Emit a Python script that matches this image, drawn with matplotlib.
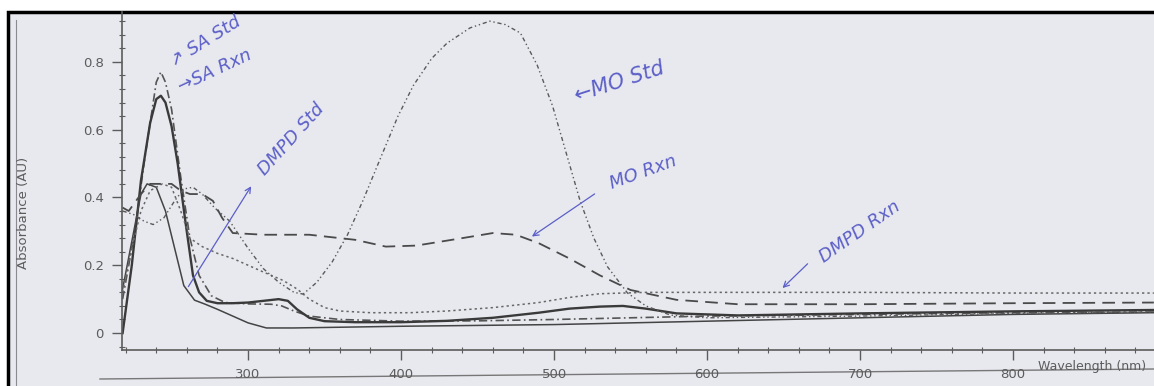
import numpy as np
import matplotlib
matplotlib.use("Agg")
import matplotlib.pyplot as plt
from matplotlib.patches import Rectangle
from matplotlib.lines import Line2D
from matplotlib.ticker import MultipleLocator

# SA standard (dash-dot)
sa_std_wl = [218, 226, 232, 236, 240, 243, 246, 250, 256, 262, 268, 276, 285, 300, 315, 322, 330, 340, 360, 400, 450, 500, 550, 600, 700, 800, 892]
sa_std_a = [0.10, 0.30, 0.50, 0.62, 0.74, 0.77, 0.74, 0.66, 0.46, 0.28, 0.17, 0.11, 0.09, 0.086, 0.085, 0.08, 0.065, 0.05, 0.04, 0.035, 0.036, 0.04, 0.045, 0.05, 0.055, 0.06, 0.062]

# SA reaction (thick solid)
sa_rxn_wl = [218, 224, 230, 236, 240, 243, 246, 250, 254, 259, 264, 268, 273, 280, 290, 300, 310, 320, 326, 332, 340, 350, 370, 400, 430, 460, 490, 510, 530, 545, 560, 580, 620, 700, 800, 892]
sa_rxn_a = [0.0, 0.20, 0.45, 0.62, 0.69, 0.70, 0.68, 0.61, 0.50, 0.33, 0.17, 0.12, 0.095, 0.088, 0.088, 0.09, 0.095, 0.10, 0.095, 0.07, 0.045, 0.035, 0.032, 0.032, 0.036, 0.045, 0.06, 0.072, 0.078, 0.08, 0.072, 0.058, 0.052, 0.058, 0.064, 0.068]

# DMPD standard (thin solid)
dmpd_std_wl = [218, 224, 230, 234, 240, 246, 252, 258, 265, 272, 280, 290, 300, 312, 330, 400, 500, 600, 700, 800, 892]
dmpd_std_a = [0.13, 0.27, 0.41, 0.44, 0.43, 0.36, 0.25, 0.14, 0.097, 0.085, 0.07, 0.05, 0.03, 0.015, 0.015, 0.02, 0.025, 0.035, 0.045, 0.055, 0.06]

# DMPD reaction (dotted)
dmpd_rxn_wl = [218, 224, 230, 236, 244, 250, 256, 262, 270, 280, 290, 300, 310, 323, 332, 340, 350, 360, 380, 406, 430, 460, 490, 510, 530, 560, 600, 700, 800, 892]
dmpd_rxn_a = [0.12, 0.25, 0.36, 0.42, 0.44, 0.43, 0.36, 0.28, 0.255, 0.235, 0.22, 0.20, 0.18, 0.155, 0.13, 0.10, 0.075, 0.065, 0.06, 0.06, 0.065, 0.075, 0.09, 0.105, 0.116, 0.12, 0.12, 0.12, 0.118, 0.118]

# MO standard (dash-dot-dot)
mo_std_wl = [218, 225, 232, 238, 245, 252, 258, 264, 270, 278, 288, 300, 310, 320, 330, 336, 345, 355, 365, 375, 386, 398, 408, 420, 430, 445, 458, 468, 478, 489, 499, 508, 517, 526, 535, 548, 560, 576, 600, 700, 800, 892]
mo_std_a = [0.36, 0.35, 0.33, 0.32, 0.34, 0.39, 0.425, 0.43, 0.41, 0.37, 0.33, 0.25, 0.19, 0.15, 0.12, 0.115, 0.15, 0.21, 0.29, 0.39, 0.51, 0.64, 0.73, 0.81, 0.855, 0.90, 0.92, 0.91, 0.885, 0.79, 0.67, 0.53, 0.39, 0.28, 0.195, 0.118, 0.08, 0.053, 0.045, 0.05, 0.058, 0.062]

# MO reaction (dashed)
mo_rxn_wl = [218, 222, 230, 236, 250, 256, 262, 270, 277, 283, 290, 310, 340, 370, 390, 410, 440, 460, 475, 490, 510, 530, 550, 580, 620, 700, 800, 892]
mo_rxn_a = [0.37, 0.36, 0.41, 0.44, 0.44, 0.42, 0.41, 0.41, 0.39, 0.34, 0.295, 0.29, 0.29, 0.275, 0.255, 0.258, 0.28, 0.295, 0.29, 0.265, 0.22, 0.17, 0.127, 0.098, 0.085, 0.085, 0.088, 0.09]

x_ticks = [300, 400, 500, 600, 700, 800]
y_ticks = [0, 0.2, 0.4, 0.6, 0.8]
y_tick_labels = ["0", "0.2", "0.4", "0.6", "0.8"]

ink = "#5b5fc7"
grey = "#5c5c5c"

fig = plt.figure(figsize=(11.54, 3.86), dpi=100, facecolor="white")
# scanned page with a dark border
fig.patches.append(Rectangle((8 / 1154, -0.2), 1.2, 1.2 - 12 / 386, transform=fig.transFigure,
                             facecolor="#e8e9ef", edgecolor="black", linewidth=2.5, zorder=-10))
fig.lines.append(Line2D([16 / 1154, 16 / 1154], [0, 1 - 20 / 386], transform=fig.transFigure,
                        color="#8a8a90", linewidth=0.8, zorder=-5))
fig.lines.append(Line2D([100 / 1154, 1.0], [1 - 379 / 386, 1 - 369 / 386], transform=fig.transFigure,
                        color="#777777", linewidth=1.0, zorder=-5))

ax = fig.add_axes([122 / 1154, 36 / 386, 1032 / 1154, 338 / 386])
ax.set_facecolor("none")
ax.set_zorder(1)

ax.plot(sa_std_wl, sa_std_a, color="#555555", lw=1.2, ls=(0, (5, 2, 1, 2)))
ax.plot(sa_rxn_wl, sa_rxn_a, color="#3a3a3a", lw=1.7, ls="-")
ax.plot(dmpd_std_wl, dmpd_std_a, color="#444444", lw=1.1, ls="-")
ax.plot(dmpd_rxn_wl, dmpd_rxn_a, color="#666666", lw=1.1, ls=(0, (1.5, 2)))
ax.plot(mo_std_wl, mo_std_a, color="#5a5a5a", lw=1.0, ls=(0, (3, 2, 1, 2, 1, 2)))
ax.plot(mo_rxn_wl, mo_rxn_a, color="#4a4a4a", lw=1.3, ls=(0, (7, 4)))

ax.set_xlim(217.6, 892.1)
ax.set_ylim(-0.05, 0.947)
ax.set_xticks(x_ticks)
ax.set_yticks(y_ticks)
ax.set_yticklabels(y_tick_labels)
ax.xaxis.set_minor_locator(MultipleLocator(20))
ax.yaxis.set_minor_locator(MultipleLocator(0.04))
ax.tick_params(which="major", direction="out", length=7, width=1, color=grey, labelcolor=grey, labelsize=9.5, pad=6)
ax.tick_params(which="minor", direction="inout", length=4, width=0.8, color=grey)
for s in ["top", "right"]:
    ax.spines[s].set_visible(False)
for s in ["left", "bottom"]:
    ax.spines[s].set_color(grey)
    ax.spines[s].set_linewidth(1.2)

ax.text(816, -0.05, "Wavelength (nm)", transform=ax.get_xaxis_transform(), ha="left", va="center",
        color=grey, fontsize=9, clip_on=False)
fig.text(24 / 1154, 1 - 213 / 386, "Absorbance (AU)", rotation=90, ha="center", va="center",
         color=grey, fontsize=9.5)

# handwritten notes
hand = dict(color=ink, fontsize=13, fontstyle="italic", ha="center", va="center")
ax.text(272, 0.86, "↗ SA Std", rotation=32, **hand)
ax.text(278, 0.775, "→SA Rxn", rotation=25, **hand)
ax.text(328, 0.57, "DMPD Std", rotation=48, **hand)
ax.annotate("", xy=(303, 0.44), xytext=(260, 0.13),
            arrowprops=dict(arrowstyle="->", color=ink, lw=0.9))
ax.text(543, 0.74, "←MO Std", rotation=18, fontsize=15, color=ink, fontstyle="italic",
        ha="center", va="center")
ax.text(558, 0.475, "MO Rxn", rotation=20, **hand)
ax.annotate("", xy=(484, 0.28), xytext=(528, 0.415),
            arrowprops=dict(arrowstyle="->", color=ink, lw=0.9))
ax.text(700, 0.30, "DMPD Rxn", rotation=35, **hand)
ax.annotate("", xy=(648, 0.127), xytext=(667, 0.21),
            arrowprops=dict(arrowstyle="->", color=ink, lw=0.9))

fig.savefig("out.png", dpi=100, facecolor=fig.get_facecolor())
